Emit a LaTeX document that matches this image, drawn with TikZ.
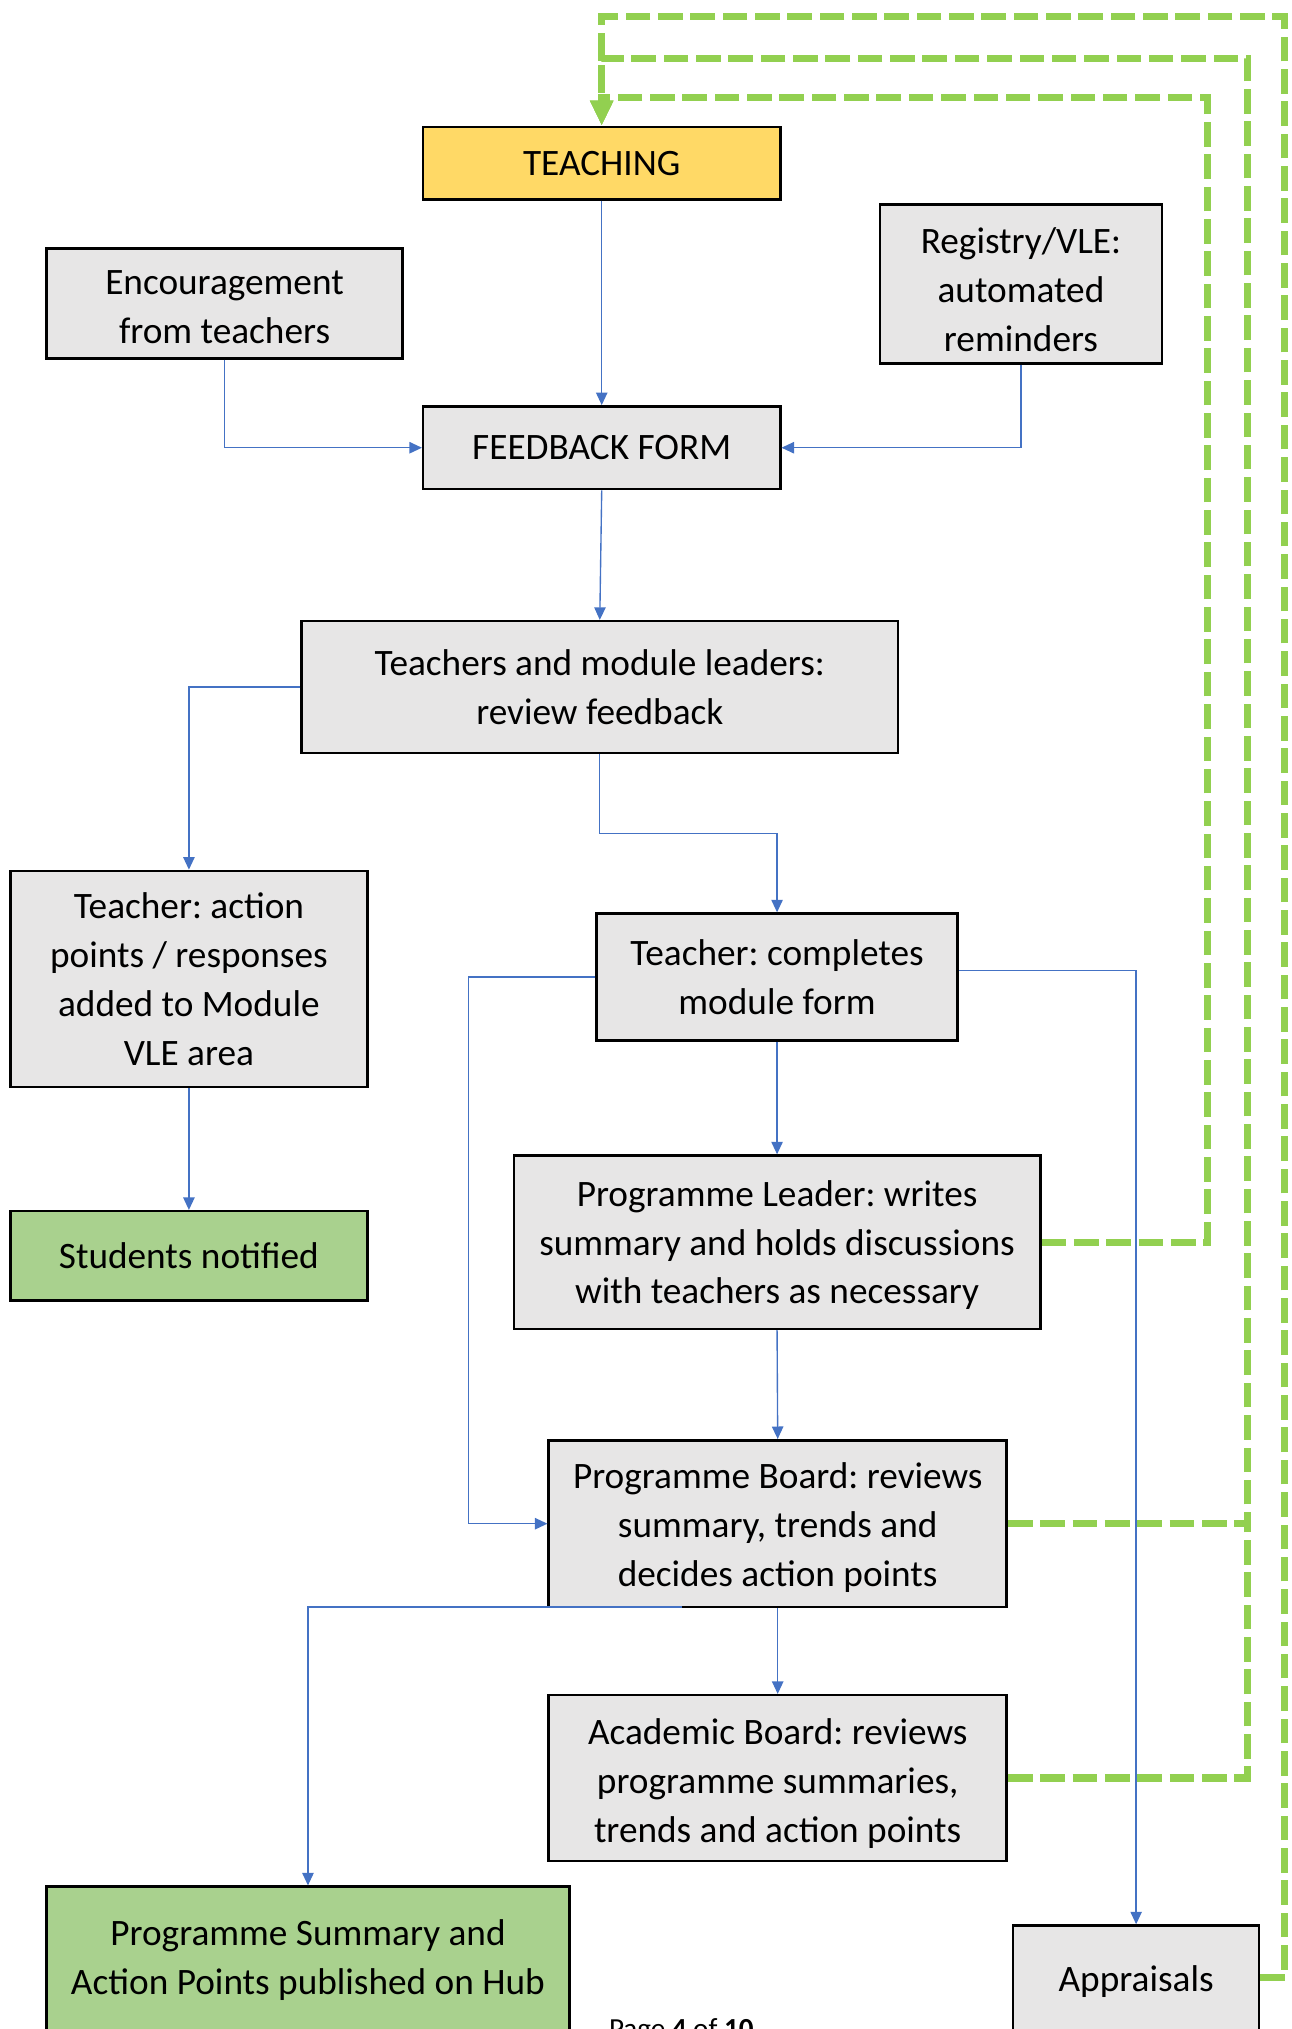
\documentclass[tikz,border=0pt]{standalone}
\usepackage{fontspec}
\setmainfont{Carlito}
\frenchspacing
\usetikzlibrary{arrows.meta}
\definecolor{boxgray}{HTML}{E7E6E6}
\definecolor{teachyellow}{HTML}{FFD966}
\definecolor{boxgreen}{HTML}{A9D18E}
\definecolor{flowblue}{HTML}{4472C4}
\definecolor{loopgreen}{HTML}{92D050}
\tikzset{
  stepbox/.style={draw=black, line width=1.1pt, fill=boxgray, align=center, inner sep=0pt,
    font=\fontsize{16.4}{21.5}\selectfont},
  flow/.style={draw=flowblue, line width=0.6pt, -{Triangle[length=5.5pt,width=5pt]}},
  loop/.style={draw=loopgreen, line width=3.1pt, dash pattern=on 0.38cm off 0.12cm},
  looparrow/.style={loop, -{Triangle[length=11pt,width=9.5pt]}}
}
\begin{document}
\begin{tikzpicture}[x=0.02cm, y=-0.02cm]
\useasboundingbox (0,0) rectangle (998,1568);

% nodes
\node[stepbox, fill=teachyellow, minimum width=5.52cm, minimum height=1.12cm] (teach) at (465,126) {TEACHING};
\node[stepbox, text height=35.6pt, minimum width=5.5cm, minimum height=1.7cm] (enc) at (173.5,234.5) {Encouragement\\from teachers};
\node[stepbox, text height=59.4pt, minimum width=4.36cm, minimum height=2.46cm] (reg) at (789,219.5) {Registry/VLE:\\automated\\reminders};
\node[stepbox, minimum width=5.52cm, minimum height=1.28cm] (ff) at (465,346) {FEEDBACK FORM};
\node[stepbox, minimum width=9.22cm, minimum height=2.04cm] (tml) at (463.5,531) {Teachers and module leaders:\\review feedback};
\node[stepbox, minimum width=5.52cm, minimum height=3.34cm] (tap) at (146,756.5) {Teacher: action\\points / responses\\added to Module\\VLE area};
\node[stepbox, minimum width=5.58cm, minimum height=1.96cm] (tcm) at (600.5,755) {Teacher: completes\\module form};
\node[stepbox, fill=boxgreen, minimum width=5.52cm, minimum height=1.38cm] (sn) at (146,970.5) {Students notified};
\node[stepbox, text height=56.9pt, minimum width=8.14cm, minimum height=2.68cm] (pl) at (600.5,960) {Programme Leader: writes\\summary and holds discussions\\with teachers as necessary};
\node[stepbox, text height=58pt, minimum width=7.08cm, minimum height=2.58cm] (pb) at (601,1177.5) {Programme Board: reviews\\summary, trends and\\decides action points};
\node[stepbox, text height=59.2pt, minimum width=7.08cm, minimum height=2.56cm] (ab) at (601,1374) {Academic Board: reviews\\programme summaries,\\trends and action points};
\node[stepbox, fill=boxgreen, minimum width=8.08cm, minimum height=2.28cm] (sum) at (238,1515) {Programme Summary and\\Action Points published on Hub};
\node[stepbox, minimum width=3.8cm, minimum height=1.72cm] (app) at (878,1531) {Appraisals};
\node[anchor=base, font=\fontsize{12.8}{15}\selectfont, inner sep=0pt] (pg) at (526.5,1575) {Page \textbf{4} of \textbf{10}};

% coordinates for bends
\coordinate (k1) at (463.5,644);
\coordinate (k2) at (362,755);
\coordinate (k3) at (527,1242);
\coordinate (gi) at (933,75);
\coordinate (gi2) at (465,75);
\coordinate (gm) at (964,45);
\coordinate (gm2) at (465,45);
\coordinate (gj) at (964,1177.5);
\coordinate (go) at (993,13);
\coordinate (go2) at (465,13);

% blue flow connectors
\draw[flow] (teach.south) -- (ff.north);
\draw[flow] (enc.south) |- (ff.west);
\draw[flow] (reg.south) |- (ff.east);
\draw[flow] (ff.south) -- (tml.north);
\draw[flow] (tml.west) -| (tap.north);
\draw[flow] (tml.south) -- (k1) -| (tcm.north);
\draw[flow] (tap.south) -- (sn.north);
\draw[flow] (tcm.south) -- (pl.north);
\draw[flow] (tcm.west) -- (k2) |- (pb.west);
\draw[flow] ([yshift=0.1cm]tcm.east) -| (app.north);
\draw[flow] (pl.south) -- (pb.north);
\draw[flow] (pb.south) -- (ab.north);
\draw[flow] (k3) -| (sum.north);

% green feedback loops
\draw[looparrow] (pl.east) -| (gi) -- (gi2) -- (teach.north);
\draw[looparrow] (pb.east) -| (gm) -- (gm2) -- (teach.north);
\draw[loop] (ab.east) -| (gj);
\draw[looparrow] ([yshift=0.06cm]app.east) -| (go) -- (go2) -- (teach.north);
\end{tikzpicture}
\end{document}
